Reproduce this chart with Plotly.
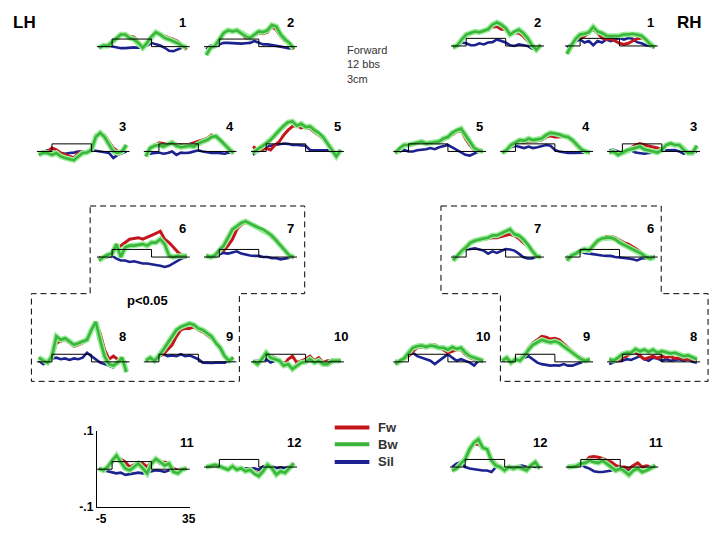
import plotly.graph_objects as go

# ---------------- data (values in hundredths of signal units) ----------------
T = [-6, -4, -2, 0, 2, 4, 6, 8, 10, 12, 14, 16, 18, 20, 22, 24, 26, 28, 30, 32, 34]
STIM_T = [-7, 0, 0, 18, 18, 35.5]
STIM_V = [0, 0, 2, 2, 0, 0]

LH1_FW = [-0.3, 0.3, 0.2, 1.2, 2.3, 3.3, 3.3, 2.7, 2.5, 1.2, 0.0, 1.2, 2.7, 3.6, 3.2, 2.9, 2.5, 1.9, 1.4, 0.3, -0.8]
LH1_BW = [-0.3, 0.3, 0.2, 1.2, 2.3, 3.2, 3.2, 2.3, 1.9, 1.0, -0.3, 1.0, 2.7, 3.8, 3.2, 2.3, 1.9, 1.5, 0.9, 0.2, -0.3]
LH1_SIL = [-0.3, 0.2, 0.3, 0.0, -0.3, -0.4, -0.4, -0.3, -0.2, -0.3, -0.2, 0.3, 1.0, 0.6, 0.3, -0.3, -1.1, -1.2, -0.7, -0.3, 0.2]

LH2_FW = [-2.0, -0.3, 0.2, 1.9, 3.6, 4.1, 3.9, 4.1, 3.6, 2.3, 2.1, 2.9, 3.6, 3.4, 3.8, 5.3, 4.4, 2.7, 1.5, 1.0, -0.7]
LH2_BW = [-2.2, -0.3, 0.2, 1.9, 3.6, 4.3, 4.0, 4.3, 3.6, 2.7, 2.3, 3.2, 4.0, 3.8, 4.3, 5.7, 5.3, 3.2, 1.9, 1.0, -0.5]
LH2_SIL = [-0.7, 0.3, 0.2, 0.6, 1.0, 1.0, 0.9, 0.9, 0.8, 0.9, 1.0, 1.5, 1.0, 0.6, 0.6, 0.3, 0.2, 0.0, -0.3, -0.5, -0.3]

RH2_FW = [-0.4, 0.2, 1.7, 3.0, 3.4, 3.8, 3.6, 4.1, 4.4, 5.0, 5.1, 4.4, 4.4, 3.0, 3.4, 3.4, 2.6, 1.3, 0.2, -0.4, 0.2]
RH2_BW = [-0.4, 0.2, 1.7, 3.0, 3.4, 3.8, 3.6, 4.1, 4.4, 5.6, 6.2, 5.6, 4.7, 3.0, 3.8, 4.3, 3.4, 2.1, 0.2, -1.0, 0.2]
RH2_SIL = [-0.2, 0.2, 0.9, 0.7, 0.2, 0.2, 0.7, 0.4, 0.9, 1.0, 1.7, 1.3, 0.9, 0.2, 0.0, 0.4, 0.2, 0.0, -0.7, -0.4, 0.0]

RH1_FW = [-2.1, 0.2, 1.9, 2.1, 2.6, 3.4, 4.4, 3.4, 2.1, 1.7, 1.9, 1.3, 0.7, 0.4, 0.7, 1.3, 1.9, 2.1, 1.7, 0.4, -0.4]
RH1_BW = [-2.1, 0.2, 1.9, 3.0, 3.2, 3.6, 5.0, 3.8, 3.4, 2.7, 2.6, 2.6, 2.7, 3.0, 3.0, 3.2, 3.0, 2.7, 1.7, 0.4, -0.4]
RH1_SIL = [-0.4, 0.4, 1.3, 1.7, 0.9, 1.3, 0.2, 1.3, 0.9, 1.7, 1.3, 1.7, 2.1, 1.7, 2.1, 1.9, 1.0, 0.7, 0.2, 0.0, -0.4]

LH3_FW = [-0.9, -0.4, 0.0, 0.9, 0.4, -0.4, -0.9, -1.3, -1.7, -0.4, 0.0, 0.0, 0.4, 4.3, 4.9, 4.3, 2.6, 0.9, 0.0, -0.4, 1.3]
LH3_BW = [-0.9, -0.3, -0.4, -0.9, -0.4, -1.3, -1.7, -2.1, -2.3, -1.3, -0.4, -0.3, 0.4, 3.8, 4.9, 3.8, 1.7, 0.0, -0.4, 0.0, 1.7]
LH3_SIL = [-0.4, 0.0, 0.3, -0.3, -0.9, -0.4, -0.6, -0.4, -0.3, 0.0, 0.0, -0.2, 0.2, 0.2, 0.0, -0.3, -0.4, -1.7, -0.9, -0.4, 0.0]

LH4_FW = [-1.3, 0.9, 1.5, 2.3, 2.1, 1.9, 2.6, 1.9, 1.7, 1.7, 1.9, 2.3, 2.6, 3.0, 3.4, 4.3, 3.8, 3.2, 2.1, 0.9, -0.4]
LH4_BW = [-1.3, 0.9, 1.5, 1.7, 1.3, 1.7, 2.3, 1.5, 1.1, 1.3, 1.5, 1.3, 2.1, 2.6, 3.0, 3.8, 4.0, 3.0, 1.7, 0.6, -0.4]
LH4_SIL = [-0.3, -0.6, -0.4, -0.3, -0.6, -0.4, 0.0, -0.9, -0.3, -0.4, -0.3, 0.0, 0.3, 0.0, -0.3, -0.4, -0.3, -0.4, -0.6, -0.3, -0.4]

LH5_FW = [1.3, 0.4, 0.4, 0.9, 0.4, 1.7, 2.6, 4.3, 5.6, 6.6, 6.8, 6.2, 6.4, 6.0, 5.1, 4.3, 3.4, 1.7, 0.4, -0.9, 0.4]
LH5_BW = [-0.4, 0.6, 1.3, 2.1, 3.0, 4.3, 5.6, 6.8, 7.7, 7.9, 6.8, 7.3, 6.4, 6.6, 5.6, 4.9, 3.8, 2.1, 0.4, -1.3, 0.4]
LH5_SIL = [-0.9, 0.0, 0.4, 1.3, 1.5, 1.7, 2.0, 2.1, 2.0, 1.7, 1.7, 1.5, 1.5, 0.4, 0.4, 0.3, 0.3, 0.3, 0.0, -0.3, 0.0]

RH5_FW = [-0.4, 0.9, 1.7, 1.7, 2.0, 2.5, 2.7, 2.1, 2.3, 2.3, 2.3, 3.0, 3.6, 4.4, 5.1, 5.6, 3.4, 1.7, 0.4, 0.0, 0.0]
RH5_BW = [-0.4, 0.9, 1.7, 1.7, 2.0, 2.3, 2.6, 2.1, 2.3, 2.3, 2.6, 3.4, 3.8, 4.9, 5.6, 6.0, 4.3, 2.6, 0.9, 0.3, 0.0]
RH5_SIL = [-0.4, 0.0, 0.4, 0.0, 0.0, 0.3, 0.4, 0.6, 0.9, 0.6, 1.1, 1.5, 1.7, 1.1, 0.4, -0.3, -0.9, -1.1, -0.6, 0.0, 0.0]

RH4_FW = [-0.4, 0.4, 1.7, 2.3, 2.6, 2.3, 2.8, 2.6, 2.8, 3.0, 3.8, 4.1, 3.8, 3.8, 4.0, 3.6, 2.6, 1.3, 0.4, 0.0, -0.3]
RH4_BW = [-0.4, 0.4, 1.7, 2.3, 3.0, 2.8, 3.4, 3.0, 3.2, 3.4, 4.3, 4.9, 4.7, 4.5, 4.0, 3.8, 3.0, 1.7, 0.6, 0.0, -0.3]
RH4_SIL = [-0.3, 0.4, 1.1, 1.5, 1.1, 0.9, 1.3, 0.9, 1.1, 1.3, 1.7, 1.5, 0.4, 0.0, -0.3, -0.4, -0.4, -0.4, -0.3, -0.3, -0.2]

RH3_FW = [0.0, -0.3, -0.9, -0.4, 0.4, 0.9, 1.7, 2.1, 1.7, 1.5, 1.3, 0.9, 0.4, 1.5, 2.0, 1.7, 1.5, 0.9, -0.3, -0.3, 1.5]
RH3_BW = [-0.3, 0.0, -0.9, -0.3, 0.3, 0.6, 0.9, 1.3, 0.6, 0.4, 0.0, -0.3, 0.4, 1.7, 2.1, 1.7, 1.7, 0.4, -0.4, -0.4, 1.5]
RH3_SIL = [0.3, 0.4, 0.0, -0.4, 0.0, 0.3, -0.3, -0.4, -0.6, -0.4, -0.3, 0.0, 0.3, 0.3, 0.4, 0.4, 0.0, -0.6, 0.0, -0.3, 0.0]

LH6_FW = [-0.4, 0.0, 0.6, 1.3, 2.1, 3.0, 3.8, 4.7, 4.9, 5.1, 4.7, 5.1, 5.7, 6.2, 6.8, 4.7, 3.8, 2.6, 1.3, 0.4, 0.2]
LH6_BW = [-0.9, 0.0, 0.6, 0.9, 3.4, 0.0, 2.6, 3.0, 3.0, 3.2, 3.4, 3.0, 3.8, 3.8, 4.7, 3.4, 0.4, 0.0, 0.3, 0.2, 0.3]
LH6_SIL = [0.0, -0.3, 0.0, 0.3, -0.4, -0.9, -0.9, -1.3, -1.1, -1.5, -1.7, -1.7, -2.0, -2.1, -2.3, -2.6, -2.3, -1.7, -0.9, -0.3, 0.0]

LH7_FW = [0.4, 0.0, 0.4, 1.7, 1.7, 3.0, 4.7, 7.3, 8.5, 9.1, 8.8, 8.1, 7.7, 7.1, 6.6, 5.1, 4.7, 3.2, 1.7, 0.4, 0.0]
LH7_BW = [0.4, 0.0, 0.4, 1.9, 3.0, 5.1, 7.3, 8.1, 9.0, 9.4, 8.8, 8.3, 7.7, 7.3, 6.4, 5.6, 4.3, 3.0, 1.5, 0.4, 0.0]
LH7_SIL = [0.0, 0.0, 0.3, 0.6, 1.1, 0.9, 1.3, 1.5, 0.9, 0.6, 0.4, 0.3, 0.3, 0.0, 0.0, -0.3, -0.3, -0.6, -0.4, -0.3, 0.0]

RH7_FW = [-0.9, 0.4, 1.7, 2.6, 3.8, 4.3, 4.7, 4.7, 4.9, 5.1, 5.1, 5.4, 5.7, 6.0, 5.6, 4.9, 3.8, 3.0, 1.3, 0.3, 0.0]
RH7_BW = [-0.9, 0.4, 1.7, 2.6, 3.8, 4.3, 4.7, 4.9, 5.1, 5.7, 5.7, 6.2, 6.6, 7.3, 6.0, 5.7, 4.7, 3.4, 1.7, 0.3, 0.0]
RH7_SIL = [0.0, 0.4, 1.5, 2.0, 2.1, 2.3, 2.0, 1.7, 0.9, 1.5, 1.1, 1.7, 2.1, 2.0, 1.7, 0.9, 0.0, -0.4, -0.4, 0.0, 0.0]

RH6_FW = [-0.9, 0.4, 0.9, 1.7, 2.1, 1.7, 3.0, 4.0, 4.7, 5.4, 5.4, 5.1, 4.5, 3.8, 3.4, 2.8, 2.0, 1.1, 0.4, -0.3, 0.0]
RH6_BW = [-0.9, 0.4, 0.9, 1.7, 2.1, 1.7, 3.0, 4.3, 4.9, 5.1, 5.1, 4.7, 3.8, 3.2, 2.6, 2.0, 1.3, 0.9, 0.0, -0.4, 0.0]
RH6_SIL = [0.0, 0.3, 0.9, 1.5, 1.1, 0.9, 0.6, 0.6, 0.4, 0.3, 0.3, 0.0, -0.2, -0.4, -0.4, -0.6, -0.9, -0.4, -0.3, 0.0, 0.3]

LH8_FW = [1.1, 0.3, -0.2, 1.1, 5.0, 5.4, 5.8, 5.0, 4.1, 4.5, 5.0, 5.8, 8.4, 10.5, 7.5, 3.2, 0.7, 1.5, 0.7, 0.3, -1.9]
LH8_BW = [1.1, 0.3, -0.2, 1.5, 6.7, 5.8, 6.2, 5.4, 4.5, 4.9, 5.4, 5.8, 8.4, 10.5, 5.8, 1.5, -0.6, -1.0, -0.2, 1.1, -2.7]
LH8_SIL = [0.3, -0.6, 0.3, 0.9, 1.1, 0.7, 0.9, 0.5, 0.9, 0.7, 1.1, 2.4, 1.5, 0.7, -0.2, -0.6, -1.0, -1.5, -0.2, 0.3, -0.2]

LH9_FW = [0.3, 1.1, 0.3, 1.5, 2.0, 3.2, 4.5, 6.7, 8.4, 8.8, 8.8, 9.2, 8.4, 7.9, 7.1, 6.2, 5.0, 3.2, 1.5, 0.3, 1.1]
LH9_BW = [0.3, 1.1, 0.3, 1.5, 3.2, 4.9, 6.7, 8.4, 9.2, 9.7, 10.1, 9.7, 8.8, 8.4, 7.5, 6.7, 5.0, 3.7, 1.5, 0.3, 1.1]
LH9_SIL = [0.3, 0.7, 0.3, 1.5, 2.0, 1.5, 1.7, 1.5, 2.0, 1.5, 1.7, 1.1, 0.7, -0.2, -0.3, -0.3, -0.2, -0.2, -0.2, 0.3, 0.3]

LH10_FW = [0.3, -0.6, 0.7, 2.0, 1.5, 1.1, 0.3, -1.0, 0.7, 1.5, -0.2, 0.3, 0.7, 1.5, 0.3, 1.1, -0.2, 0.3, 0.3, 0.3, 0.3]
LH10_BW = [0.3, -0.6, 0.7, 2.4, 1.1, 0.7, 0.3, -1.0, -0.6, -1.9, -1.0, -0.2, 0.0, 0.7, -0.2, 0.3, -0.6, -0.6, 0.3, 0.3, 0.3]
LH10_SIL = [-0.2, 0.3, 0.3, 0.7, -0.2, 0.3, 0.3, -0.2, -1.0, -1.5, -0.6, -0.2, -0.3, 0.3, 0.0, -0.3, -0.2, -1.0, -0.2, 0.3, 0.0]

RH10_FW = [-0.6, 0.3, 0.7, 1.5, 2.8, 3.7, 3.9, 4.1, 4.3, 4.5, 3.9, 3.2, 2.4, 2.8, 3.2, 3.2, 2.0, 1.1, 0.7, 0.7, 0.3]
RH10_BW = [-0.6, 0.3, 0.9, 2.4, 3.7, 4.1, 4.3, 3.9, 4.3, 4.1, 3.7, 3.7, 3.2, 3.9, 3.4, 3.7, 2.4, 1.5, 1.1, 0.7, 0.3]
RH10_SIL = [0.3, 0.0, 0.7, 1.5, 2.4, 1.5, 1.1, 0.7, 0.3, -0.6, 0.3, 1.1, 2.0, 1.1, 0.3, 0.7, 0.3, -0.2, -1.0, 0.3, 0.0]

RH9_FW = [0.3, 1.1, -0.2, 0.7, 0.3, 1.5, 3.7, 5.0, 5.8, 6.7, 6.5, 6.0, 6.2, 5.8, 4.8, 3.7, 2.6, 1.7, 1.1, 0.5, 0.7]
RH9_BW = [0.3, 1.1, -0.2, 0.7, 0.3, 1.5, 3.2, 4.5, 5.1, 5.8, 5.4, 5.1, 5.4, 5.0, 4.1, 3.2, 2.4, 1.5, 0.7, 0.3, 0.7]
RH9_SIL = [0.3, 0.7, 0.3, 0.7, 0.3, 1.1, 1.5, 0.7, -0.2, -0.6, -0.9, -1.0, -0.9, -1.0, -0.6, -1.0, -1.0, -0.6, -0.2, 0.3, 0.3]

RH8_FW = [0.7, 0.3, 0.3, 1.1, 1.5, 2.4, 2.6, 1.7, 0.7, 1.1, 1.5, 0.9, 1.5, 1.1, 1.4, 0.9, 1.1, 0.7, 0.7, 0.7, 0.3]
RH8_BW = [0.7, 0.3, 1.1, 2.0, 2.4, 2.4, 3.4, 2.8, 3.2, 2.6, 3.2, 2.4, 2.8, 2.6, 2.2, 2.4, 2.0, 1.5, 1.7, 1.1, 0.7]
RH8_SIL = [-0.6, -0.2, 0.3, 0.3, 0.7, 0.5, 1.1, 1.5, 0.7, 0.3, 1.1, 0.9, 0.3, 0.7, 0.3, 0.5, 0.7, 0.3, 0.7, 0.0, -0.2]

LH11_FW = [0.2, -0.3, 0.6, 2.3, 3.3, 2.7, 1.9, 0.6, 1.0, 1.6, 1.5, 0.6, 1.9, 2.3, 1.5, 1.9, 1.5, 0.2, -0.3, 0.2, 0.2]
LH11_BW = [0.2, -0.3, 0.6, 2.3, 3.6, 1.9, 0.2, -0.3, 0.6, 1.5, 0.2, -1.1, 1.5, 2.7, 1.9, 1.0, 1.5, -0.7, -1.1, -0.1, 0.2]
LH11_SIL = [0.0, -0.3, -0.4, -0.7, -1.1, -0.9, -1.5, -1.3, -1.1, -0.9, -1.1, -0.9, -0.7, -0.3, -0.4, -0.7, -0.3, -0.1, -0.3, -0.1, 0.0]

LH12_FW = [0.0, 0.2, 0.6, 0.2, -0.3, -0.7, 0.2, -0.7, -0.3, -0.7, -0.4, -1.1, -1.8, -0.7, 0.6, -0.3, -1.8, -1.1, -1.3, -0.3, 1.0]
LH12_BW = [0.0, 0.2, 0.6, 0.2, -0.3, -0.7, 0.2, -0.7, -0.3, -1.1, -0.7, -1.8, -2.4, -1.1, 0.6, -0.3, -2.0, -1.1, -1.5, -0.3, 1.0]
LH12_SIL = [0.0, 0.2, 0.4, 0.2, -0.1, -0.3, -0.1, -0.3, -0.4, -0.3, -0.4, -0.3, -0.7, 0.2, 0.4, 0.2, -0.3, -0.1, -0.3, 0.2, 0.2]

RH12_FW = [-0.9, -0.4, 0.9, 2.1, 4.7, 6.0, 6.0, 5.1, 4.7, 2.1, 0.9, -0.4, -0.9, 0.0, -0.4, 0.0, -0.4, -0.9, 0.4, 1.3, -0.4]
RH12_BW = [-0.9, -0.4, 0.9, 2.1, 4.7, 6.4, 7.3, 5.1, 4.7, 1.7, 0.4, 0.0, -0.9, 0.0, -0.4, 0.0, -0.4, -0.9, 0.4, 1.3, -0.4]
RH12_SIL = [0.0, 0.9, 1.3, 0.0, -0.4, -0.6, -0.6, -0.9, -0.9, -1.3, 0.0, 0.0, -0.4, 0.0, 0.0, 0.2, 0.4, 0.0, 0.2, 0.0, 0.0]

RH11_FW = [0.0, 0.0, 0.3, 0.9, 1.3, 2.6, 2.8, 2.6, 2.3, 1.7, 1.3, 0.4, 0.0, 0.0, -0.4, 0.4, 1.1, 0.0, 0.3, 0.0, 0.4]
RH11_BW = [0.0, 0.0, 0.3, 0.9, 1.1, 1.7, 1.3, 1.1, 1.7, 0.9, 0.0, -0.9, -0.4, -1.1, -2.1, -0.9, -0.4, -1.3, -0.9, -0.3, 0.4]
RH11_SIL = [0.0, 0.2, 0.4, 0.9, 0.0, -0.4, -1.1, -1.3, -1.3, -1.1, -0.9, -0.3, 0.0, -0.4, -0.9, -0.6, 0.0, -1.1, -0.4, 0.0, 0.3]

# ---------------- layout helpers ----------------
W, H = 720, 540
PW = 94.0          # panel width in px
PX_PER_UNIT = 3.9  # vertical px per hundredth
XR = [-7, 35.5]

def px(x):
    return x / W

def py(y):
    return 1 - y / H

# (label, fw, bw, sil, left px, baseline px, label y px)
panels = [
    ("1", LH1_FW, LH1_BW, LH1_SIL, 96.7, 40.7, 16),
    ("2", LH2_FW, LH2_BW, LH2_SIL, 205, 40.7, 16),
    ("2", RH2_FW, RH2_BW, RH2_SIL, 454.3, 40.0, 16),
    ("1", RH1_FW, RH1_BW, RH1_SIL, 569.3, 40.0, 16),
    ("3", LH3_FW, LH3_BW, LH3_SIL, 36, 148.3, 122.7),
    ("4", LH4_FW, LH4_BW, LH4_SIL, 144, 148.3, 122.7),
    ("5", LH5_FW, LH5_BW, LH5_SIL, 252.3, 148.3, 122.7),
    ("5", RH5_FW, RH5_BW, RH5_SIL, 396, 148.3, 122.7),
    ("4", RH4_FW, RH4_BW, RH4_SIL, 504, 148.3, 122.7),
    ("3", RH3_FW, RH3_BW, RH3_SIL, 612, 148.3, 122.7),
    ("6", LH6_FW, LH6_BW, LH6_SIL, 96.7, 256.7, 227),
    ("7", LH7_FW, LH7_BW, LH7_SIL, 205, 256.7, 227),
    ("7", RH7_FW, RH7_BW, RH7_SIL, 454.3, 256.7, 227),
    ("6", RH6_FW, RH6_BW, RH6_SIL, 569.3, 256.7, 227),
    ("8", LH8_FW, LH8_BW, LH8_SIL, 36, 364.3, 338),
    ("9", LH9_FW, LH9_BW, LH9_SIL, 144, 364.3, 338),
    ("10", LH10_FW, LH10_BW, LH10_SIL, 252.3, 364.3, 338),
    ("10", RH10_FW, RH10_BW, RH10_SIL, 396, 364.3, 338),
    ("9", RH9_FW, RH9_BW, RH9_SIL, 504, 364.3, 338),
    ("8", RH8_FW, RH8_BW, RH8_SIL, 612, 364.3, 338),
    ("11", LH11_FW, LH11_BW, LH11_SIL, 96.7, 474.5, 446.7),
    ("12", LH12_FW, LH12_BW, LH12_SIL, 205, 472.3, 446.7),
    ("12", RH12_FW, RH12_BW, RH12_SIL, 453.3, 472.3, 446.7),
    ("11", RH11_FW, RH11_BW, RH11_SIL, 570, 472.3, 446.7),
]

RED = "#C4161C"
GREEN_HALO = "#98EC98"
GREEN = "#3AB63A"
BLUE = "#1C2290"
FONT = "Liberation Sans, Arial, sans-serif"

fig = go.Figure()
layout = dict(
    width=W, height=H, autosize=False,
    margin=dict(l=0, r=0, t=0, b=0),
    paper_bgcolor="white", plot_bgcolor="rgba(0,0,0,0)",
    showlegend=False,
)
annotations = []
shapes = []

for k, (lab, fw, bw, sil, xl, base, laby) in enumerate(panels, start=1):
    xa = "xaxis" if k == 1 else f"xaxis{k}"
    ya = "yaxis" if k == 1 else f"yaxis{k}"
    xr = "x" if k == 1 else f"x{k}"
    yr = "y" if k == 1 else f"y{k}"
    is_axis_panel = (lab == "11" and xl < 300)
    if is_axis_panel:
        top, bot = base - 10 * PX_PER_UNIT, base + 10 * PX_PER_UNIT
        yrange = [-10, 10]
    else:
        top = max(0.0, base - 48)
        bot = min(H, base + 40)
        yrange = [-(bot - base) / PX_PER_UNIT, (base - top) / PX_PER_UNIT]
    layout[xa] = dict(domain=[px(xl), px(xl + PW)], range=XR, anchor=yr,
                      visible=False, showgrid=False, zeroline=False, fixedrange=True)
    layout[ya] = dict(domain=[py(bot), py(top)], range=yrange, anchor=xr,
                      visible=False, showgrid=False, zeroline=False, fixedrange=True)
    if is_axis_panel:
        layout[xa].update(visible=True, showline=True, linecolor="black", linewidth=1,
                          ticks="", tickvals=[-5, 35], ticktext=["-5", "35"],
                          tickfont=dict(family=FONT, size=12, color="black", weight="bold"))
        layout[ya].update(visible=True, showline=True, linecolor="black", linewidth=1,
                          ticks="", tickvals=[-10, 10], ticktext=["-.1", ".1"],
                          tickfont=dict(family=FONT, size=12, color="black", weight="bold"))

    fig.add_trace(go.Scatter(x=T, y=sil, mode="lines", xaxis=xr, yaxis=yr,
                             line=dict(color=BLUE, width=2.6), hoverinfo="skip"))
    fig.add_trace(go.Scatter(x=T, y=fw, mode="lines", xaxis=xr, yaxis=yr,
                             line=dict(color=RED, width=3), hoverinfo="skip"))
    fig.add_trace(go.Scatter(x=T, y=bw, mode="lines", xaxis=xr, yaxis=yr,
                             line=dict(color=GREEN_HALO, width=5.5), hoverinfo="skip"))
    fig.add_trace(go.Scatter(x=T, y=bw, mode="lines", xaxis=xr, yaxis=yr,
                             line=dict(color=GREEN, width=2.6), hoverinfo="skip"))
    fig.add_trace(go.Scatter(x=STIM_T, y=STIM_V, mode="lines", xaxis=xr, yaxis=yr,
                             line=dict(color="black", width=1), hoverinfo="skip"))

    lx = xl + (91 if len(lab) == 2 else 87)
    annotations.append(dict(x=px(lx), y=py(laby), xref="paper", yref="paper", text=lab,
                            showarrow=False, xanchor="center", yanchor="middle",
                            font=dict(family=FONT, size=13, color="black", weight="bold")))

# hemisphere labels
for txt, x in (("LH", 24), ("RH", 695)):
    annotations.append(dict(x=px(x), y=py(16), xref="paper", yref="paper", text=txt,
                            showarrow=False, xanchor="center", yanchor="middle",
                            font=dict(family=FONT, size=17, color="black", weight="bold")))

annotations.append(dict(x=px(347), y=py(59), xref="paper", yref="paper",
                        text="Forward<br>12 bbs<br>3cm", showarrow=False, align="left",
                        xanchor="left", yanchor="middle",
                        font=dict(family=FONT, size=11, color="#333333")))
annotations.append(dict(x=px(148), y=py(301), xref="paper", yref="paper", text="p<0.05",
                        showarrow=False, xanchor="center", yanchor="middle",
                        font=dict(family=FONT, size=13, color="black", weight="bold")))

# legend
for name, col, y in (("Fw", RED, 431.7), ("Bw", GREEN, 449), ("Sil", BLUE, 467)):
    shapes.append(dict(type="line", xref="paper", yref="paper",
                       x0=px(337), x1=px(372), y0=py(y), y1=py(y),
                       line=dict(color=col, width=4)))
    annotations.append(dict(x=px(379), y=py(y), xref="paper", yref="paper", text=name,
                            showarrow=False, xanchor="left", yanchor="middle",
                            font=dict(family=FONT, size=13, color="#333333", weight="bold")))

# dashed significance outlines
def path(pts):
    s = "M " + " L ".join(f"{px(a):.5f},{py(b):.5f}" for a, b in pts) + " Z"
    return s

lh_outline = [(90, 204.3), (306.7, 204.3), (306.7, 294.3), (240.7, 294.3), (240.7, 384.3),
              (30.7, 384.3), (30.7, 294.3), (90, 294.3)]
rh_outline = [(444.3, 204.3), (666.7, 204.3), (666.7, 294.3), (714, 294.3), (714, 384.3),
              (504.3, 384.3), (504.3, 294.3), (444.3, 294.3)]
for pts in (lh_outline, rh_outline):
    shapes.append(dict(type="path", xref="paper", yref="paper", path=path(pts),
                       line=dict(color="black", width=1, dash="6px,4px")))

layout["annotations"] = annotations
layout["shapes"] = shapes
fig.update_layout(**layout)

POST = (
    "document.documentElement.style.margin='0';"
    "document.documentElement.style.padding='0';"
    "document.documentElement.style.overflow='hidden';"
    "document.body.style.margin='0';"
    "document.body.style.padding='0';"
    "document.body.style.overflow='hidden';"
    "var gd=document.getElementById('{plot_id}');"
    "gd.style.position='absolute';gd.style.left='0px';gd.style.top='0px';"
)
fig.write_html("out.html", config={"displayModeBar": False}, post_script=POST)
